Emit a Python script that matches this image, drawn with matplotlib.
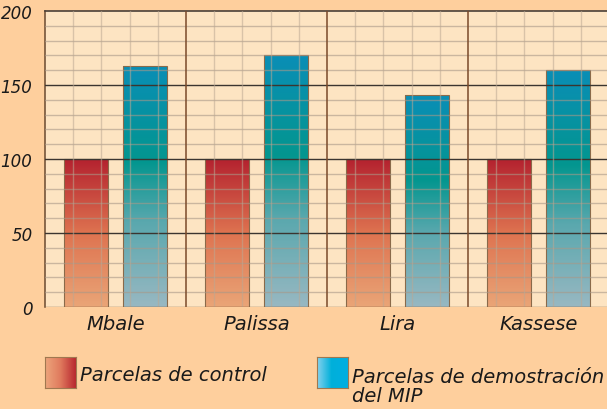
import numpy as np
import matplotlib
matplotlib.use("Agg")
import matplotlib.pyplot as plt
from matplotlib.colors import LinearSegmentedColormap

categories = ["Mbale", "Palissa", "Lira", "Kassese"]
control = [100, 100, 100, 100]
mip = [163, 170, 143, 160]
yticks = [0, 50, 100, 150, 200]
legend_labels = ["Parcelas de control", "Parcelas de demostración\ndel MIP"]

FIG_BG = "#FECF9D"
AX_BG = "#FDE4C2"
FONT = dict(family="DejaVu Sans", style="italic", color="#1a1a1a")

fig = plt.figure(figsize=(6.07, 4.10), dpi=100, facecolor=FIG_BG)
ax = fig.add_axes([45/607, 102/410, 564/607, 296/410])
ax.set_facecolor(AX_BG)
ax.set_xlim(-0.5, 3.5)
ax.set_ylim(0, 200)

cmap_ctrl = LinearSegmentedColormap.from_list(
    "ctrl", [(0.0, "#EAA577"), (0.5, "#DE7350"), (1.0, "#B4222F")])
cmap_mip = LinearSegmentedColormap.from_list(
    "mip", [(0.0, "#98B8C2"), (0.35, "#5AA8AE"), (0.6, "#03968F"), (1.0, "#0A8EB6")])

width = 0.31
off = 0.21
grad = np.linspace(0, 1, 256).reshape(-1, 1)
x = np.arange(len(categories))
for xs, vals, cm in [(x - off, control, cmap_ctrl), (x + off, mip, cmap_mip)]:
    bars = ax.bar(xs, vals, width=width, color="none", edgecolor="#8a6a4a",
                  linewidth=0.8, zorder=3)
    for b in bars:
        x0, y0 = b.get_x(), b.get_y()
        w, h = b.get_width(), b.get_height()
        im = ax.imshow(grad, cmap=cm, aspect="auto", origin="lower",
                       extent=[x0, x0 + w, y0, y0 + h], zorder=2)
        im.set_clip_path(b)

# grid (drawn over bars)
for yv in range(10, 200, 10):
    if yv % 50 == 0:
        ax.axhline(yv, color="#3b3530", lw=1.0, zorder=4)
    else:
        ax.axhline(yv, color="#a89888", lw=1.0, alpha=0.6, zorder=4)
for i in range(len(categories)):
    for k in range(1, 5):
        ax.axvline(i - 0.5 + k / 5, color="#bca893", lw=1.0, alpha=0.55, zorder=4)
    if i > 0:
        ax.axvline(i - 0.5, color="#7a4a2a", lw=1.1, zorder=4)

for s in ["right", "bottom"]:
    ax.spines[s].set_visible(False)
ax.spines["left"].set_color("#6a4a30")
ax.spines["left"].set_linewidth(1.1)
ax.spines["top"].set_color("#4a4038")
ax.spines["top"].set_linewidth(1.2)
ax.axhline(0, color="#8a6a4a", lw=1.0, zorder=4)

ax.set_yticks(yticks)
ax.set_yticklabels([str(v) for v in yticks], fontsize=12, **FONT)
ax.set_xticks(x)
ax.set_xticklabels(categories, fontsize=14, **FONT)
ax.tick_params(axis="both", length=0)
ax.tick_params(axis="y", pad=9)
ax.tick_params(axis="x", pad=5)

# legend
hgrad = np.linspace(0, 1, 256).reshape(1, -1)
cm_leg1 = LinearSegmentedColormap.from_list("l1", ["#EDA67C", "#E07A5E", "#B8272F"])
cm_leg2 = LinearSegmentedColormap.from_list(
    "l2", [(0.0, "#86D2EE"), (0.45, "#00B0DA"), (1.0, "#00AEE2")])
for (xl, cm, lab, ty) in [(45, cm_leg1, legend_labels[0], 376),
                          (317, cm_leg2, legend_labels[1], 387)]:
    lax = fig.add_axes([xl/607, (410-389)/410, 31/607, 31/410])
    lax.imshow(hgrad, cmap=cm, aspect="auto")
    lax.set_xticks([]); lax.set_yticks([])
    for s in lax.spines.values():
        s.set_color("#a07850"); s.set_linewidth(0.8)
    fig.text((xl + 35)/607, (410-ty)/410, lab, fontsize=14, va="center",
             ha="left", linespacing=0.95, **FONT)

fig.savefig("out.png", dpi=100, facecolor=FIG_BG)
